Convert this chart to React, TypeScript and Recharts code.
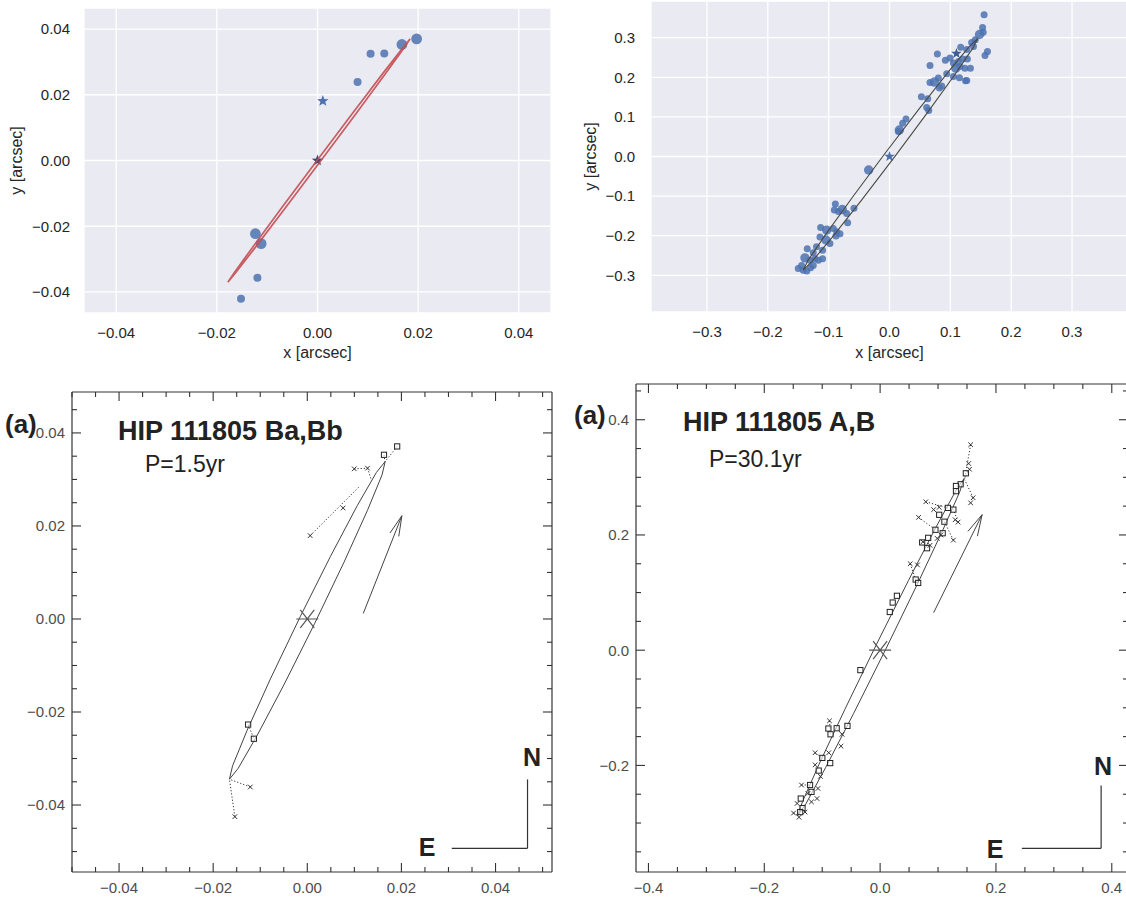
import React from 'react';
import { ScatterChart, Scatter, XAxis, YAxis, CartesianGrid, ReferenceLine } from 'recharts';

type Pt = { x: number; y: number };
type Seg = [Pt, Pt];
const p = (x: number, y: number): Pt => ({ x, y });

const FONT = '"Liberation Sans", Arial, Helvetica, sans-serif';

// ---------- HIP 111805 Ba,Bb (inner pair) ----------
// fitted orbit, top-left (traced around the ellipse)
const bbFitOrbit: Pt[] = [
  p(0.01841, 0.03701), p(0.01691, 0.03425), p(0.01288, 0.02628), p(0.00693, 0.01431),
  p(-0.00002, 0.00016), p(-0.00693, -0.01401), p(-0.01274, -0.02606), p(-0.01655, -0.03413),
  p(-0.01781, -0.03701), p(-0.01631, -0.03425), p(-0.01228, -0.02628), p(-0.00633, -0.01431),
  p(0.00062, -0.00016), p(0.00753, 0.01401), p(0.01334, 0.02606), p(0.01715, 0.03413),
];
const bbBigDots: Pt[] = [p(0.0197, 0.037), p(0.01678, 0.0353), p(-0.01234, -0.02227), p(-0.0112, -0.0253)];
const bbSmallDots: Pt[] = [
  p(0.01055, 0.0325), p(0.01327, 0.03258), p(0.00796, 0.0239), p(-0.01194, -0.0357), p(-0.0152, -0.0421),
];
const bbStar: Pt[] = [p(0.00106, 0.0181)];
const origin: Pt[] = [p(0, 0)];

// published orbit, bottom-left
const bbOrbit: Pt[] = [
  p(0.01655, 0.03385), p(0.0147, 0.03153), p(0.01062, 0.02437), p(0.00492, 0.01345),
  p(-0.00153, 0.00044), p(-0.00775, -0.01269), p(-0.01278, -0.02393), p(-0.01588, -0.03157),
  p(-0.01655, -0.03445), p(-0.0147, -0.03213), p(-0.01062, -0.02497), p(-0.00492, -0.01406),
  p(0.00153, -0.00104), p(0.00775, 0.01209), p(0.01278, 0.02333), p(0.01588, 0.03097),
];
const bbSquares: Pt[] = [p(0.0191, 0.0371), p(0.0163, 0.0353), p(-0.01257, -0.0227), p(-0.01135, -0.02575)];
const bbCrosses: Pt[] = [
  p(0.00998, 0.03228), p(0.0128, 0.03242), p(0.00762, 0.02386), p(0.00061, 0.01792),
  p(-0.01211, -0.03612), p(-0.01539, -0.0425),
];
const bbResiduals: Seg[] = [
  [p(0.0191, 0.0371), p(0.0165, 0.0338)],
  [p(0.0163, 0.0353), p(0.0165, 0.0338)],
  [p(0.00998, 0.03228), p(0.0128, 0.03242)],
  [p(0.0128, 0.03242), p(0.0135, 0.0302)],
  [p(0.00061, 0.01792), p(0.0111, 0.0285)],
  [p(-0.01257, -0.0227), p(-0.01135, -0.02575)],
  [p(-0.01211, -0.03612), p(-0.01655, -0.03445)],
  [p(-0.01539, -0.0425), p(-0.01655, -0.03445)],
];
const bbArrow: Seg[] = [
  [p(0.0119, 0.0012), p(0.0201, 0.0222)],
  [p(0.0201, 0.0222), p(0.01757, 0.01848)],
  [p(0.0201, 0.0222), p(0.01944, 0.01775)],
];
const bbCompass: Seg[] = [
  [p(0.0307, -0.0493), p(0.0468, -0.0493)],
  [p(0.0468, -0.0493), p(0.0468, -0.0345)],
];
const bbXDomain = [-0.05, 0.052];
const bbYDomain = [-0.0544, 0.0488];
const bbTicksX = [-0.05, -0.045, -0.04, -0.035, -0.03, -0.025, -0.02, -0.015, -0.01, -0.005, 0,
  0.005, 0.01, 0.015, 0.02, 0.025, 0.03, 0.035, 0.04, 0.045, 0.05];
const bbTicksY = [-0.05, -0.045, -0.04, -0.035, -0.03, -0.025, -0.02, -0.015, -0.01, -0.005, 0,
  0.005, 0.01, 0.015, 0.02, 0.025, 0.03, 0.035, 0.04, 0.045];
const bbMajor = [-0.04, -0.02, 0, 0.02, 0.04];

// ---------- HIP 111805 A,B (outer pair) ----------
const abOrbit: Pt[] = [
  p(0.145, 0.298), p(0.131, 0.2773), p(0.0973, 0.2151), p(0.049, 0.1211),
  p(-0.0066, 0.0095), p(-0.0609, -0.1028), p(-0.1057, -0.1985), p(-0.1342, -0.2632),
  p(-0.142, -0.287), p(-0.128, -0.2663), p(-0.0943, -0.2041), p(-0.0459, -0.1101),
  p(0.0096, 0.0015), p(0.0639, 0.1138), p(0.1087, 0.2095), p(0.1372, 0.2742),
];
const abBigDots: Pt[] = [
  p(0.148, 0.308), p(0.109, 0.223), p(0.0738, 0.188), p(0.0162, 0.067), p(-0.0343, -0.034),
  p(-0.0776, -0.134), p(-0.1033, -0.186), p(-0.1044, -0.211), p(-0.139, -0.256),
];
const abSmallDots: Pt[] = [
  p(0.1555, 0.358), p(0.153, 0.326), p(0.154, 0.314), p(0.141, 0.295), p(0.135, 0.288), p(0.161, 0.265),
  p(0.157, 0.255), p(0.138, 0.278), p(0.127, 0.27), p(0.117, 0.276), p(0.0787, 0.259), p(0.0918, 0.243),
  p(0.0995, 0.249), p(0.105, 0.236), p(0.1133, 0.24), p(0.12, 0.246), p(0.128, 0.246), p(0.0666, 0.23),
  p(0.094, 0.209), p(0.116, 0.227), p(0.124, 0.223), p(0.133, 0.223), p(0.105, 0.202), p(0.115, 0.199),
  p(0.125, 0.191), p(0.127, 0.192), p(0.0803, 0.198), p(0.0666, 0.187), p(0.0858, 0.178), p(0.082, 0.173),
  p(0.0524, 0.151), p(0.0628, 0.146), p(0.0611, 0.124), p(0.0645, 0.116), p(0.0271, 0.095), p(0.0216, 0.084),
  p(0.0146, 0.063), p(-0.089, -0.12), p(-0.0907, -0.135), p(-0.084, -0.139), p(-0.0704, -0.144),
  p(-0.0584, -0.131), p(-0.0688, -0.167), p(-0.1132, -0.179), p(-0.0923, -0.182), p(-0.0869, -0.19),
  p(-0.0814, -0.195), p(-0.088, -0.201), p(-0.0979, -0.22), p(-0.1143, -0.203), p(-0.12, -0.228),
  p(-0.11, -0.237), p(-0.1352, -0.233), p(-0.1253, -0.243), p(-0.1308, -0.262), p(-0.1225, -0.258),
  p(-0.11, -0.258), p(-0.1445, -0.275), p(-0.15, -0.283), p(-0.1417, -0.287), p(-0.136, -0.289),
  p(-0.1297, -0.281), p(-0.1253, -0.275), p(-0.117, -0.262),
];
const abStars: Pt[] = [p(0.11, 0.26)];

const abSquares: Pt[] = [
  p(0.148, 0.307), p(0.139, 0.288), p(0.131, 0.285), p(0.131, 0.276), p(0.1265, 0.244), p(0.117, 0.247),
  p(0.111, 0.223), p(0.102, 0.235), p(0.0955, 0.209), p(0.108, 0.203), p(0.083, 0.195), p(0.081, 0.177),
  p(0.0726, 0.187), p(0.0614, 0.1226), p(0.0657, 0.1167), p(0.029, 0.0944), p(0.0217, 0.0827),
  p(0.0167, 0.0663), p(-0.0341, -0.0346), p(-0.0564, -0.1314), p(-0.075, -0.1355), p(-0.0893, -0.136),
  p(-0.0856, -0.146), p(-0.0998, -0.187), p(-0.0862, -0.196), p(-0.106, -0.209), p(-0.121, -0.234),
  p(-0.1185, -0.246), p(-0.137, -0.2575), p(-0.134, -0.274), p(-0.138, -0.281),
];
const abCrosses: Pt[] = [
  p(0.1563, 0.3566), p(0.153, 0.324), p(0.1544, 0.314), p(0.1606, 0.2645), p(0.1563, 0.2557),
  p(0.0788, 0.2575), p(0.0924, 0.244), p(0.102, 0.248), p(0.0664, 0.2305), p(0.1296, 0.2264),
  p(0.1346, 0.2223), p(0.1265, 0.191), p(0.0986, 0.194), p(0.1048, 0.2), p(0.0738, 0.188),
  p(0.0862, 0.182), p(0.052, 0.15), p(0.0645, 0.148), p(-0.0874, -0.1226), p(-0.0657, -0.146),
  p(-0.0676, -0.1666), p(-0.1122, -0.178), p(-0.0887, -0.178), p(-0.1122, -0.199), p(-0.103, -0.219),
  p(-0.1358, -0.234), p(-0.1073, -0.24), p(-0.109, -0.2575), p(-0.1185, -0.2633), p(-0.1433, -0.266),
  p(-0.1495, -0.2827), p(-0.1296, -0.281), p(-0.14, -0.29), p(-0.1247, -0.2487),
];
const abResiduals: Seg[] = [
  [p(0.1563, 0.3566), p(0.146, 0.298)],
  [p(0.1606, 0.2645), p(0.146, 0.296)],
  [p(0.1544, 0.314), p(0.146, 0.298)],
  [p(0.0788, 0.2575), p(0.117, 0.247)],
  [p(0.0664, 0.2305), p(0.0955, 0.209)],
  [p(0.1265, 0.191), p(0.111, 0.223)],
  [p(0.1346, 0.2223), p(0.1265, 0.244)],
  [p(0.052, 0.15), p(0.0614, 0.1226)],
  [p(-0.0874, -0.1226), p(-0.0856, -0.146)],
  [p(-0.0657, -0.146), p(-0.075, -0.1355)],
  [p(-0.1122, -0.178), p(-0.0998, -0.187)],
  [p(-0.1358, -0.234), p(-0.121, -0.234)],
  [p(-0.1495, -0.2827), p(-0.142, -0.287)],
];
const abArrow: Seg[] = [
  [p(0.0924, 0.0651), p(0.1761, 0.2352)],
  [p(0.1761, 0.2352), p(0.1515, 0.2061)],
  [p(0.1761, 0.2352), p(0.168, 0.1979)],
];
const abCompass: Seg[] = [
  [p(0.2448, -0.3439), p(0.3816, -0.3439)],
  [p(0.3816, -0.3439), p(0.3816, -0.2347)],
];
const abXDomain = [-0.4215, 0.428];
const abYDomain = [-0.385, 0.462];
const abTicksX = [-0.4, -0.35, -0.3, -0.25, -0.2, -0.15, -0.1, -0.05, 0, 0.05, 0.1, 0.15, 0.2, 0.25, 0.3, 0.35, 0.4];
const abTicksY = [-0.35, -0.3, -0.25, -0.2, -0.15, -0.1, -0.05, 0, 0.05, 0.1, 0.15, 0.2, 0.25, 0.3, 0.35, 0.4, 0.45];
const abMajor = [-0.4, -0.2, 0, 0.2, 0.4];

// seaborn-panel ticks
const tlTicks = [-0.04, -0.02, 0, 0.02, 0.04];
const trTicks = [-0.3, -0.2, -0.1, 0, 0.1, 0.2, 0.3];

// ---------- helpers ----------
const fmt = (digits: number) => (v: number) =>
  Math.abs(v) < 1e-9 ? (0).toFixed(digits) : v.toFixed(digits).replace('-', '\u2212');
const isMajor = (majors: number[], v: number) => majors.some((m) => Math.abs(m - v) < 1e-9);
const majorFmt = (majors: number[], digits: number) => (v: number) => (isMajor(majors, v) ? fmt(digits)(v) : '');

const closed = (pts: Pt[]) => [...pts, pts[0]];

const none = () => <g />;
const dot = (r: number, fill = '#4C72B0', op = 0.85) => (s: any) => (
  <circle cx={s.cx} cy={s.cy} r={r} fill={fill} fillOpacity={op} />
);
const star = (R: number, fill: string) => (s: any) => {
  const pts: string[] = [];
  for (let i = 0; i < 10; i++) {
    const r = i % 2 ? R * 0.42 : R;
    const a = -Math.PI / 2 + (i * Math.PI) / 5;
    pts.push(`${s.cx + r * Math.cos(a)},${s.cy + r * Math.sin(a)}`);
  }
  return <polygon points={pts.join(' ')} fill={fill} />;
};
const square = (s: any) => (
  <rect x={s.cx - 2.6} y={s.cy - 2.6} width={5.2} height={5.2} fill="#fff" fillOpacity={0.6} stroke="#222" strokeWidth={1} />
);
const cross = (s: any) => (
  <path
    d={`M${s.cx - 2.3},${s.cy - 2.3}L${s.cx + 2.3},${s.cy + 2.3}M${s.cx - 2.3},${s.cy + 2.3}L${s.cx + 2.3},${s.cy - 2.3}`}
    stroke="#333"
    strokeWidth={1}
  />
);
const asterisk = (s: any) => (
  <path
    d={`M${s.cx - 11},${s.cy}L${s.cx + 11},${s.cy}M${s.cx - 7},${s.cy - 9}L${s.cx + 7},${s.cy + 9}M${s.cx - 7},${s.cy + 9}L${s.cx + 7},${s.cy - 9}`}
    stroke="#555"
    strokeWidth={1.2}
  />
);

// inward ticks on all four sides of a boxed panel, as short segments in data units
const frameTicks = (
  xDom: number[], yDom: number[], xTicks: number[], yTicks: number[], majors: number[], plotW: number, plotH: number,
): Seg[] => {
  const ux = (xDom[1] - xDom[0]) / plotW;
  const uy = (yDom[1] - yDom[0]) / plotH;
  const out: Seg[] = [];
  xTicks.forEach((v) => {
    const len = (isMajor(majors, v) ? 9 : 5) * uy;
    out.push([p(v, yDom[0]), p(v, yDom[0] + len)]);
    out.push([p(v, yDom[1]), p(v, yDom[1] - len)]);
  });
  yTicks.forEach((v) => {
    const len = (isMajor(majors, v) ? 9 : 5) * ux;
    out.push([p(xDom[0], v), p(xDom[0] + len, v)]);
    out.push([p(xDom[1], v), p(xDom[1] - len, v)]);
  });
  return out;
};

const segs = (list: Seg[], key: string, stroke: string, dash?: string, w = 1) =>
  list.map((s, i) => (
    <ReferenceLine
      key={`${key}${i}`}
      segment={[s[0], s[1]]}
      stroke={stroke}
      strokeWidth={w}
      strokeDasharray={dash}
      ifOverflow="visible"
    />
  ));

const seabornTick = { fontSize: 15, fill: '#262626', fontFamily: FONT };
const seabornLabel = { fontSize: 16, fill: '#262626', fontFamily: FONT, textAnchor: 'middle' as const };
const frameTickText = { fontSize: 15, fill: '#4d4d4d', fontFamily: FONT };
const FRAME = { stroke: '#333', strokeWidth: 1.2 };

export default function App() {
  return (
    <div
      style={{
        position: 'absolute', left: 0, top: 0, width: 1126, height: 909, overflow: 'hidden',
        background: '#fff', fontFamily: FONT,
      }}
    >
      {/* top-left: seaborn style, Ba,Bb */}
      <div style={{ position: 'absolute', left: 0, top: 0 }}>
        <ScatterChart width={560} height={370} margin={{ top: 8, right: 9, bottom: 0, left: 0 }}>
          <CartesianGrid fill="#EAEAF2" stroke="#fff" strokeWidth={1.3} />
          <XAxis
            type="number" dataKey="x" domain={[-0.0464, 0.0464]} allowDataOverflow ticks={tlTicks} interval={0}
            axisLine={false} tickLine={false} tickSize={0} tickMargin={14} height={57}
            tick={seabornTick} tickFormatter={fmt(2)}
            label={{ value: 'x [arcsec]', position: 'insideBottom', offset: 12, style: seabornLabel }}
          />
          <YAxis
            type="number" dataKey="y" domain={[-0.0464, 0.0464]} allowDataOverflow ticks={tlTicks} interval={0}
            axisLine={false} tickLine={false} tickSize={0} tickMargin={14} width={84}
            tick={seabornTick} tickFormatter={fmt(2)}
            label={{ value: 'y [arcsec]', angle: -90, position: 'insideLeft', offset: 16, style: seabornLabel }}
          />
          <Scatter data={bbSmallDots} shape={dot(4)} isAnimationActive={false} />
          <Scatter data={bbBigDots} shape={dot(5.4)} isAnimationActive={false} />
          <Scatter data={bbStar} shape={star(6, '#4C72B0')} isAnimationActive={false} />
          <Scatter data={origin} shape={star(6, '#3b4a78')} isAnimationActive={false} />
          <Scatter
            data={closed(bbFitOrbit)} shape={none} isAnimationActive={false}
            line={{ stroke: '#C44E52', strokeWidth: 1.7, strokeOpacity: 0.9 }}
          />
        </ScatterChart>
      </div>

      {/* top-right: seaborn style, A,B */}
      <div style={{ position: 'absolute', left: 560, top: 0 }}>
        <ScatterChart width={570} height={370} margin={{ top: 1, right: 2, bottom: 0, left: 0 }}>
          <CartesianGrid fill="#EAEAF2" stroke="#fff" strokeWidth={1.3} />
          <XAxis
            type="number" dataKey="x" domain={[-0.392, 0.392]} allowDataOverflow ticks={trTicks} interval={0}
            axisLine={false} tickLine={false} tickSize={0} tickMargin={14} height={58}
            tick={seabornTick} tickFormatter={fmt(1)}
            label={{ value: 'x [arcsec]', position: 'insideBottom', offset: 12, style: seabornLabel }}
          />
          <YAxis
            type="number" dataKey="y" domain={[-0.3927, 0.3927]} allowDataOverflow ticks={trTicks} interval={0}
            axisLine={false} tickLine={false} tickSize={0} tickMargin={16} width={91}
            tick={seabornTick} tickFormatter={fmt(1)}
            label={{ value: 'y [arcsec]', angle: -90, position: 'insideLeft', offset: 30, style: seabornLabel }}
          />
          <Scatter data={abSmallDots} shape={dot(3.5)} isAnimationActive={false} />
          <Scatter data={abBigDots} shape={dot(4.7)} isAnimationActive={false} />
          <Scatter data={abStars} shape={star(5.5, '#3f5d95')} isAnimationActive={false} />
          <Scatter data={origin} shape={star(5.5, '#4C72B0')} isAnimationActive={false} />
          <Scatter
            data={closed(abOrbit)} shape={none} isAnimationActive={false}
            line={{ stroke: '#4a4a42', strokeWidth: 1.1 }}
          />
        </ScatterChart>
      </div>

      {/* bottom-left: boxed, Ba,Bb */}
      <div style={{ position: 'absolute', left: 0, top: 380 }}>
        <ScatterChart width={560} height={529} margin={{ top: 12, right: 8, bottom: 0, left: 0 }}>
          <XAxis
            type="number" dataKey="x" domain={bbXDomain} allowDataOverflow ticks={bbTicksX} interval={0}
            axisLine={FRAME} tickLine={false} tickSize={0} tickMargin={10} height={37}
            tick={frameTickText} tickFormatter={majorFmt(bbMajor, 2)}
          />
          <YAxis
            type="number" dataKey="y" domain={bbYDomain} allowDataOverflow ticks={bbTicksY} interval={0}
            axisLine={FRAME} tickLine={false} tickSize={0} tickMargin={7} width={72}
            tick={frameTickText} tickFormatter={majorFmt(bbMajor, 2)}
          />
          <ReferenceLine y={bbYDomain[1]} stroke="#333" strokeWidth={1.2} ifOverflow="visible" />
          <ReferenceLine x={bbXDomain[1]} stroke="#333" strokeWidth={1.2} ifOverflow="visible" />
          {segs(frameTicks(bbXDomain, bbYDomain, bbTicksX, bbTicksY, bbMajor, 480, 480), 't', '#333', undefined, 1.1)}
          {segs(bbResiduals, 'r', '#333', '1.2 2')}
          {segs(bbArrow, 'a', '#444')}
          {segs(bbCompass, 'c', '#333', undefined, 1.2)}
          <Scatter
            data={closed(bbOrbit)} shape={none} isAnimationActive={false}
            line={{ stroke: '#444', strokeWidth: 1 }}
          />
          <Scatter data={bbSquares} shape={square} isAnimationActive={false} />
          <Scatter data={bbCrosses} shape={cross} isAnimationActive={false} />
          <Scatter data={origin} shape={asterisk} isAnimationActive={false} />
        </ScatterChart>
      </div>

      {/* bottom-right: boxed, A,B */}
      <div style={{ position: 'absolute', left: 560, top: 375 }}>
        <ScatterChart width={570} height={534} margin={{ top: 9, right: 2, bottom: 0, left: 0 }}>
          <XAxis
            type="number" dataKey="x" domain={abXDomain} allowDataOverflow ticks={abTicksX} interval={0}
            axisLine={FRAME} tickLine={false} tickSize={0} tickMargin={10} height={37}
            tick={frameTickText} tickFormatter={majorFmt(abMajor, 1)}
          />
          <YAxis
            type="number" dataKey="y" domain={abYDomain} allowDataOverflow ticks={abTicksY} interval={0}
            axisLine={FRAME} tickLine={false} tickSize={0} tickMargin={7} width={76}
            tick={frameTickText} tickFormatter={majorFmt(abMajor, 1)}
          />
          <ReferenceLine y={abYDomain[1]} stroke="#333" strokeWidth={1.2} ifOverflow="visible" />
          {segs(frameTicks(abXDomain, abYDomain, abTicksX, abTicksY, abMajor, 492, 488), 't', '#333', undefined, 1.1)}
          {segs(abResiduals, 'r', '#333', '1.2 2')}
          {segs(abArrow, 'a', '#444')}
          {segs(abCompass, 'c', '#333', undefined, 1.2)}
          <Scatter
            data={closed(abOrbit)} shape={none} isAnimationActive={false}
            line={{ stroke: '#444', strokeWidth: 1 }}
          />
          <Scatter data={abSquares} shape={square} isAnimationActive={false} />
          <Scatter data={abCrosses} shape={cross} isAnimationActive={false} />
          <Scatter data={origin} shape={asterisk} isAnimationActive={false} />
        </ScatterChart>
      </div>

      {/* panel annotations */}
      <svg width={1126} height={909} style={{ position: 'absolute', left: 0, top: 0, pointerEvents: 'none' }}>
        <g fontFamily={FONT} fill="#222">
          <text x={5} y={433} fontSize={26} fontWeight="bold">(a)</text>
          <text x={118} y={440} fontSize={27} fontWeight="bold">HIP 111805 Ba,Bb</text>
          <text x={145} y={472} fontSize={23}>P=1.5yr</text>
          <text x={532} y={766} fontSize={25} fontWeight="bold" textAnchor="middle">N</text>
          <text x={427} y={856} fontSize={25} fontWeight="bold" textAnchor="middle">E</text>

          <text x={574} y={424} fontSize={26} fontWeight="bold">(a)</text>
          <text x={683} y={431} fontSize={27} fontWeight="bold">HIP 111805 A,B</text>
          <text x={709} y={467} fontSize={23}>P=30.1yr</text>
          <text x={1103} y={775} fontSize={25} fontWeight="bold" textAnchor="middle">N</text>
          <text x={995} y={858} fontSize={25} fontWeight="bold" textAnchor="middle">E</text>
        </g>
      </svg>
    </div>
  );
}
